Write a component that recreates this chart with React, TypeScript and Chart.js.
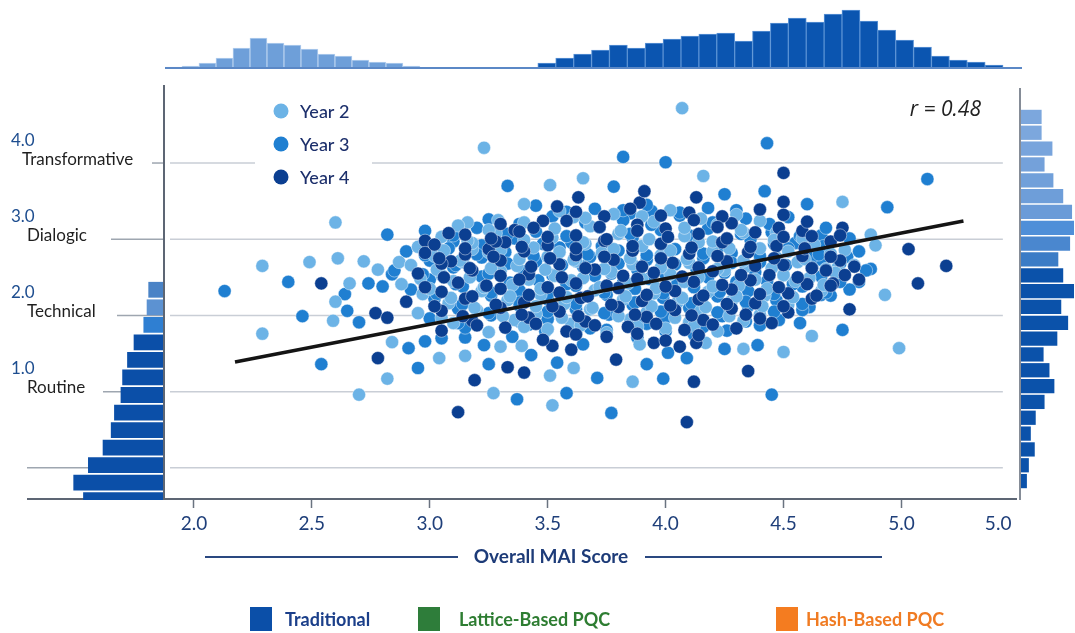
import React, { useEffect, useRef } from "react";
import { Chart, registerables } from "chart.js";
Chart.register(...registerables);

// ---------- Data ----------
const xTickValues = [2.0, 2.5, 3.0, 3.5, 4.0, 4.5, 5.0, 5.41];
const xTickLabels = ["2.0", "2.5", "3.0", "3.5", "4.0", "4.5", "5.0", "5.0"];

const yLevels = [4, 3, 2, 1, 0];
const yLevelNumbers = ["4.0", "3.0", "2.0", "1.0"];
const yLevelNames = ["Transformative", "Dialogic", "Technical", "Routine"];

const seriesNames = ["Year 2", "Year 3", "Year 4"];
const correlationText = "r = 0.48";
const xAxisTitle = "Overall MAI Score";
const methodNames = ["Traditional", "Lattice-Based PQC", "Hash-Based PQC"];

const fitLine: [number, number][] = [[2.174, 1.388], [5.263, 3.239]];

const year2Points: [number, number][] = [
  [4.07,4.72],[3.23,4.20],[4.16,3.83],[3.51,3.71],[3.65,3.80],[3.40,3.46],[3.61,3.29],[3.29,3.25],[3.16,3.22],[2.60,3.22],
  [2.29,2.65],[2.49,2.70],[2.61,2.75],[2.66,2.42],[2.72,2.71],[2.78,2.60],[2.87,2.70],[3.18,2.87],[3.27,2.98],[4.75,3.49],
  [4.47,3.09],[4.87,3.06],[4.89,2.92],[4.73,2.63],[4.93,2.27],[4.62,1.73],[4.99,1.57],[4.50,1.52],[4.33,1.56],[4.17,1.64],
  [3.86,1.13],[3.89,1.62],[2.29,1.76],[2.70,0.96],[2.82,1.17],[3.04,1.44],[3.15,1.47],[3.27,0.98],[3.52,0.82],[3.51,1.21],
  [3.61,1.31],[2.84,1.65],[3.30,1.59],[3.39,1.60],[2.59,1.93],[2.60,2.18],
  [3.55,3.37],[3.78,3.33],[4.02,3.38],[4.30,3.32],
  [3.12,3.18],[3.40,3.22],[3.68,3.17],[3.95,3.23],[4.22,3.19],[4.40,3.24],
  [3.05,3.03],[3.28,3.08],[3.52,3.02],[3.80,3.07],[4.08,3.04],[4.33,3.09],[4.58,3.01],
  [2.95,2.90],[3.18,2.95],[3.44,2.89],[3.66,2.94],[3.90,2.91],[4.14,2.96],[4.40,2.88],[4.63,2.93],
  [3.02,2.78],[3.25,2.83],[3.50,2.77],[3.73,2.82],[3.98,2.79],[4.20,2.84],[4.47,2.76],[4.70,2.81],
  [2.92,2.66],[3.14,2.70],[3.37,2.65],[3.62,2.71],[3.86,2.67],[4.10,2.69],[4.34,2.64],[4.56,2.70],[4.80,2.66],
  [3.05,2.53],[3.30,2.58],[3.53,2.52],[3.77,2.57],[4.02,2.54],[4.25,2.59],[4.50,2.53],[4.72,2.56],
  [2.88,2.41],[3.10,2.45],[3.35,2.40],[3.60,2.46],[3.84,2.42],[4.08,2.44],[4.31,2.39],[4.55,2.45],
  [2.97,2.28],[3.22,2.32],[3.47,2.27],[3.70,2.33],[3.95,2.29],[4.18,2.31],[4.42,2.26],[4.66,2.32],
  [3.08,2.16],[3.33,2.20],[3.57,2.15],[3.82,2.21],[4.05,2.17],[4.28,2.19],[4.52,2.14],
  [2.95,2.03],[3.20,2.07],[3.45,2.02],[3.68,2.08],[3.92,2.04],[4.15,2.06],[4.40,2.01],
  [3.10,1.90],[3.36,1.94],[3.60,1.89],[3.85,1.95],[4.10,1.91],[4.33,1.93],
  [3.25,1.78],[3.50,1.82],[3.75,1.77],[4.00,1.83],[4.22,1.79],
  [3.66,3.28],[3.90,3.30],[4.15,3.27],
  [3.25,3.12],[3.53,3.14],[3.81,3.11],[4.08,3.15],[4.32,3.12],
  [3.16,2.98],[3.40,2.99],[3.65,2.96],[3.93,3.00],[4.20,2.97],[4.46,2.99],
  [3.06,2.85],[3.30,2.86],[3.55,2.83],[3.78,2.87],[4.02,2.85],[4.27,2.88],[4.52,2.84],[4.76,2.86],
  [3.13,2.72],[3.38,2.74],[3.61,2.73],[3.85,2.75],[4.09,2.74],[4.33,2.72],[4.59,2.74],
  [3.03,2.60],[3.26,2.62],[3.49,2.60],[3.74,2.61],[3.98,2.63],[4.22,2.61],[4.45,2.62],[4.68,2.61],
  [2.96,2.48],[3.17,2.50],[3.42,2.47],[3.65,2.49],[3.90,2.48],[4.14,2.50],[4.38,2.47],[4.61,2.49],
  [3.00,2.35],[3.23,2.37],[3.47,2.35],[3.72,2.37],[3.96,2.36],[4.20,2.38],[4.43,2.35],[4.67,2.40],
  [3.09,2.23],[3.34,2.25],[3.58,2.24],[3.83,2.25],[4.07,2.23],[4.30,2.25],[4.54,2.24],
  [3.19,2.10],[3.45,2.12],[3.69,2.10],[3.94,2.12],[4.17,2.11],[4.41,2.12],
  [3.05,1.97],[3.31,1.99],[3.56,1.97],[3.80,1.99],[4.04,1.97],[4.27,1.99],
  [3.40,1.85],[3.64,1.87],[3.88,1.85],[4.12,1.86],
];

const year3Points: [number, number][] = [
  [3.82,4.08],[4.00,4.01],[4.43,4.26],[5.11,3.79],[3.78,3.69],[3.94,3.37],[3.85,3.34],[4.25,3.59],[4.42,3.63],[4.60,3.46],
  [4.94,3.42],[4.66,3.05],[4.77,2.77],[4.87,2.61],[4.82,2.44],[4.66,2.73],[4.75,1.81],[4.57,1.90],[4.39,1.61],[4.25,1.56],
  [4.45,0.96],[4.09,1.44],[4.01,1.51],[3.99,1.17],[3.92,1.36],[3.71,1.18],[3.77,0.72],[4.61,2.11],[4.66,2.27],[3.33,3.70],
  [2.82,3.06],[2.13,2.32],[2.40,2.44],[2.74,2.42],[2.80,2.38],[2.84,2.54],[3.04,2.87],[2.46,1.99],[2.54,1.36],[2.95,1.31],
  [3.25,1.36],[3.37,0.90],[3.58,0.98],[3.54,1.38],[2.91,1.57],[2.98,1.66],[3.05,1.70],[3.15,1.71],[3.23,1.61],[3.43,1.48],
  [3.65,1.62],[2.70,1.91],[2.65,2.06],[2.64,2.28],
  [3.45,3.44],[3.70,3.40],[3.92,3.45],[4.18,3.41],
  [3.25,3.26],[3.52,3.30],[3.82,3.25],[4.06,3.31],[4.34,3.27],[4.52,3.29],
  [2.98,3.11],[3.20,3.15],[3.45,3.10],[3.72,3.16],[3.98,3.12],[4.18,3.14],[4.45,3.09],[4.68,3.15],
  [3.10,2.97],[3.36,3.01],[3.60,2.96],[3.86,3.02],[4.12,2.98],[4.36,3.00],[4.55,2.95],[4.78,3.01],
  [2.90,2.84],[3.08,2.88],[3.32,2.83],[3.55,2.89],[3.80,2.85],[4.04,2.87],[4.28,2.82],[4.52,2.88],[4.82,2.84],
  [3.00,2.72],[3.22,2.76],[3.45,2.71],[3.68,2.77],[3.92,2.73],[4.16,2.75],[4.40,2.70],[4.62,2.76],
  [2.85,2.59],[3.10,2.63],[3.40,2.58],[3.65,2.64],[3.88,2.60],[4.13,2.62],[4.38,2.57],[4.62,2.63],[4.85,2.59],
  [3.00,2.47],[3.22,2.51],[3.46,2.46],[3.70,2.52],[3.93,2.48],[4.18,2.50],[4.43,2.45],[4.66,2.51],
  [2.92,2.34],[3.14,2.38],[3.38,2.33],[3.62,2.39],[3.87,2.35],[4.12,2.37],[4.35,2.32],[4.58,2.38],[4.78,2.34],
  [3.02,2.22],[3.26,2.26],[3.50,2.21],[3.75,2.27],[3.99,2.23],[4.22,2.25],[4.47,2.20],[4.70,2.26],
  [3.12,2.09],[3.38,2.13],[3.62,2.08],[3.86,2.14],[4.10,2.10],[4.35,2.12],[4.58,2.07],
  [3.00,1.96],[3.26,2.00],[3.50,1.95],[3.76,2.01],[4.00,1.97],[4.24,1.99],[4.48,1.94],
  [3.15,1.84],[3.42,1.88],[3.68,1.83],[3.92,1.89],[4.16,1.85],[4.40,1.87],
  [3.35,1.72],[3.62,1.76],[3.88,1.71],[4.12,1.75],
  [3.58,3.36],[3.82,3.38],[4.06,3.35],[4.30,3.38],
  [3.38,3.20],[3.66,3.22],[3.94,3.19],[4.20,3.22],[4.44,3.20],
  [3.10,3.05],[3.33,3.07],[3.58,3.04],[3.85,3.07],[4.10,3.05],[4.32,3.07],[4.57,3.04],
  [3.22,2.92],[3.48,2.94],[3.73,2.91],[3.98,2.94],[4.24,2.92],[4.46,2.94],[4.67,2.91],
  [2.98,2.79],[3.20,2.80],[3.44,2.78],[3.67,2.80],[3.92,2.79],[4.16,2.81],[4.40,2.78],[4.65,2.80],
  [3.11,2.66],[3.33,2.68],[3.56,2.66],[3.80,2.68],[4.04,2.67],[4.28,2.69],[4.51,2.66],[4.74,2.68],
  [2.97,2.54],[3.25,2.55],[3.52,2.53],[3.77,2.55],[4.00,2.54],[4.25,2.56],[4.50,2.53],[4.74,2.55],
  [3.11,2.41],[3.34,2.43],[3.58,2.41],[3.82,2.43],[4.05,2.42],[4.30,2.44],[4.54,2.41],[4.74,2.44],
  [3.03,2.28],[3.26,2.30],[3.50,2.28],[3.74,2.30],[3.99,2.29],[4.23,2.31],[4.46,2.28],[4.68,2.30],
  [3.14,2.15],[3.38,2.17],[3.62,2.15],[3.87,2.17],[4.11,2.16],[4.34,2.18],[4.58,2.15],
  [3.25,2.03],[3.50,2.05],[3.74,2.03],[3.98,2.05],[4.22,2.04],[4.46,2.05],
  [3.12,1.90],[3.38,1.92],[3.63,1.90],[3.88,1.92],[4.12,1.91],[4.34,1.92],
  [3.49,1.79],[3.75,1.81],[4.00,1.79],[4.26,1.80],
];

const year4Points: [number, number][] = [
  [4.50,3.87],[3.89,3.48],[3.91,3.63],[4.13,3.55],[4.50,3.49],[4.75,3.15],[4.58,3.11],[5.03,2.87],[5.19,2.65],[5.07,2.42],
  [4.71,2.42],[4.78,2.08],[4.45,1.90],[4.35,1.27],[4.12,1.13],[3.79,1.42],[4.09,0.60],[3.95,1.64],[4.06,1.59],[4.13,1.64],
  [3.63,3.55],[3.54,3.43],[3.48,3.24],[3.36,3.12],[3.08,3.08],[2.54,2.42],[2.98,2.98],[3.25,2.87],[3.09,2.71],[2.98,2.82],
  [3.32,2.96],[2.78,1.44],[3.19,1.15],[3.33,1.32],[3.40,1.25],[3.12,0.73],[3.52,1.60],[3.60,1.55],[2.77,2.03],[2.82,1.97],
  [3.62,3.36],[3.85,3.40],[4.10,3.35],[4.40,3.39],
  [3.30,3.20],[3.58,3.24],[3.88,3.19],[4.12,3.25],[4.28,3.21],[4.60,3.23],
  [3.15,3.06],[3.38,3.10],[3.62,3.05],[3.88,3.11],[4.14,3.07],[4.38,3.09],[4.62,3.04],
  [3.02,2.93],[3.28,2.97],[3.50,2.92],[3.74,2.98],[3.98,2.94],[4.24,2.96],[4.47,2.91],[4.70,2.97],
  [3.15,2.80],[3.40,2.84],[3.62,2.79],[3.86,2.85],[4.10,2.81],[4.35,2.83],[4.58,2.78],
  [3.05,2.68],[3.30,2.72],[3.55,2.67],[3.78,2.73],[4.03,2.69],[4.26,2.71],[4.50,2.66],[4.74,2.72],
  [2.95,2.55],[3.18,2.59],[3.42,2.54],[3.70,2.60],[3.95,2.56],[4.20,2.58],[4.44,2.53],[4.68,2.59],
  [3.12,2.43],[3.38,2.47],[3.62,2.42],[3.88,2.48],[4.12,2.44],[4.36,2.46],[4.60,2.41],[4.82,2.47],
  [3.05,2.31],[3.30,2.35],[3.55,2.30],[3.80,2.36],[4.04,2.32],[4.28,2.34],[4.52,2.29],
  [2.90,2.18],[3.15,2.22],[3.40,2.17],[3.64,2.23],[3.90,2.19],[4.14,2.21],[4.38,2.16],[4.62,2.22],
  [3.05,2.06],[3.30,2.10],[3.55,2.05],[3.80,2.11],[4.04,2.07],[4.28,2.09],[4.52,2.04],
  [3.18,1.93],[3.42,1.97],[3.66,1.92],[3.92,1.98],[4.16,1.94],[4.40,1.96],
  [3.05,1.80],[3.32,1.84],[3.58,1.79],[3.84,1.85],[4.08,1.81],[4.30,1.83],
  [3.48,1.68],[3.75,1.72],[4.00,1.67],
  [3.74,3.30],[3.98,3.31],[4.24,3.30],[4.50,3.32],
  [3.44,3.15],[3.72,3.16],[4.00,3.14],[4.22,3.16],[4.48,3.15],
  [3.26,3.01],[3.50,3.03],[3.75,3.00],[4.01,3.03],[4.26,3.01],[4.50,3.03],[4.74,3.05],
  [3.15,2.88],[3.39,2.90],[3.62,2.88],[3.86,2.91],[4.11,2.89],[4.36,2.90],[4.59,2.88],
  [3.04,2.75],[3.27,2.77],[3.51,2.75],[3.74,2.77],[3.98,2.75],[4.22,2.78],[4.46,2.75],[4.70,2.77],
  [3.17,2.62],[3.43,2.64],[3.66,2.62],[3.90,2.64],[4.14,2.63],[4.38,2.65],[4.62,2.62],[4.80,2.64],
  [3.06,2.50],[3.30,2.52],[3.56,2.50],[3.82,2.52],[4.07,2.51],[4.32,2.53],[4.56,2.50],[4.76,2.53],
  [2.98,2.37],[3.24,2.39],[3.50,2.37],[3.75,2.39],[4.00,2.38],[4.24,2.40],[4.48,2.37],[4.70,2.39],
  [3.18,2.25],[3.42,2.27],[3.67,2.25],[3.92,2.27],[4.16,2.26],[4.40,2.28],[4.64,2.26],
  [3.02,2.12],[3.28,2.14],[3.52,2.12],[3.77,2.14],[4.02,2.13],[4.26,2.15],[4.50,2.12],
  [3.14,1.99],[3.39,2.01],[3.63,1.99],[3.87,2.01],[4.11,2.00],[4.34,2.01],
  [3.20,1.87],[3.45,1.89],[3.70,1.87],[3.96,1.89],[4.20,1.88],
  [3.62,1.75],[3.88,1.76],[4.14,1.74],
];

// marginal histograms
const topLightStart = 1.877;
const topLightBinWidth = 0.0721;
const topLightCounts = [0.8, 2, 5, 10, 20, 30, 25, 23, 19, 14, 12, 8, 6, 5, 2];
const topDarkStart = 3.459;
const topDarkBinWidth = 0.0759;
const topDarkCounts = [5, 10, 14, 18, 23, 20, 25, 29, 32, 34, 35, 27, 37, 45, 50, 46, 54, 58, 47, 38, 28, 21, 12, 8, 6, 3];

const leftBins = ["2.34", "2.12", "1.90", "1.68", "1.46", "1.24", "1.02", "0.80", "0.58", "0.36", "0.14", "-0.08", "-0.30"];
const leftCounts = [9, 10, 12, 18, 22, 25, 26, 30, 32, 37, 46, 55, 49];

const rightBins = ["b1","b2","b3","b4","b5","b6","b7","b8","b9","b10","b11","b12","b13","b14","b15","b16","b17","b18","b19","b20","b21","b22","b23","b24"];
const rightCounts = [21, 21, 32, 24, 33, 43, 52, 54, 50, 38, 43, 54, 41, 48, 37, 23, 29, 34, 24, 15, 10, 14, 8, 6];

// ---------- Styles ----------
const C2 = "#6cb3e6";
const C3 = "#1f7fd1";
const C4 = "#0b3f91";
const FONT = "Lato, 'Open Sans', sans-serif";

const leftColors = ["#4a83c6", "#5c92d2", "#2f7fd2", "#0b4fa8", "#0b4fa8", "#0b4fa8", "#0b4fa8", "#0b4fa8", "#0b4fa8", "#0b4fa8", "#0b4fa8", "#0b4fa8", "#0b4fa8"];
const rightColors = ["#7ca7dd", "#7ca7dd", "#78a4dc", "#74a1da", "#71a0da", "#6e9ed9", "#6a9bd8", "#4f8fd8", "#4a87cf", "#3b7cc6",
  "#0b52aa", "#0b52aa", "#0b52aa", "#0b52aa", "#0b52aa", "#0b52aa", "#0b52aa", "#0b52aa", "#0b52aa", "#0b52aa", "#0b52aa", "#0b52aa", "#0b52aa", "#0b52aa"];

const toXY = (arr: [number, number][]) => arr.map(([x, y]) => ({ x, y }));

export default function App() {
  const mainRef = useRef<HTMLCanvasElement>(null);
  const topRef = useRef<HTMLCanvasElement>(null);
  const leftRef = useRef<HTMLCanvasElement>(null);
  const rightRef = useRef<HTMLCanvasElement>(null);

  useEffect(() => {
    const charts: Chart[] = [];

    const decor = {
      id: "decor",
      beforeDatasetsDraw(chart: any) {
        const { ctx, chartArea: ca, scales } = chart;
        const x = scales.x, y = scales.y;
        ctx.save();
        const ext = [152, 111, 117, 103, 27];
        yLevels.forEach((lv, i) => {
          const py = y.getPixelForValue(lv);
          ctx.strokeStyle = "#c9ced6";
          ctx.lineWidth = 1.5;
          ctx.beginPath();
          ctx.moveTo(ca.left + 6, py);
          ctx.lineTo(x.getPixelForValue(5.43), py);
          ctx.stroke();
          ctx.strokeStyle = "#9ea6b0";
          ctx.beginPath();
          ctx.moveTo(ext[i], py);
          ctx.lineTo(ca.left, py);
          ctx.stroke();
        });
        ctx.fillStyle = "#ffffff";
        ctx.fillRect(255, 95, 117, 98);
        ctx.strokeStyle = "#5d6674";
        ctx.lineWidth = 2;
        ctx.beginPath();
        ctx.moveTo(ca.left, ca.top);
        ctx.lineTo(ca.left, ca.bottom + 1);
        ctx.stroke();
        ctx.beginPath();
        ctx.moveTo(27, ca.bottom + 1);
        ctx.lineTo(ca.right, ca.bottom + 1);
        ctx.stroke();
        ctx.lineWidth = 1.5;
        ctx.beginPath();
        ctx.moveTo(1020, 88);
        ctx.lineTo(1020, 500);
        ctx.stroke();
        ctx.restore();
      },
      afterDraw(chart: any) {
        const { ctx, scales } = chart;
        const y = scales.y;
        ctx.save();
        ctx.textBaseline = "middle";
        ctx.textAlign = "left";
        const nameX = [22, 27, 27, 27];
        yLevelNames.forEach((name, i) => {
          const py = y.getPixelForValue(yLevels[i]);
          ctx.font = `17px ${FONT}`;
          ctx.fillStyle = "#1d4d8f";
          ctx.fillText(yLevelNumbers[i], 11, py - 23);
          ctx.fillStyle = "#1f1f1f";
          ctx.fillText(name, nameX[i], py - 4);
        });
        const lc = [C2, C3, C4];
        seriesNames.forEach((n, i) => {
          const cy = 111 + i * 33;
          ctx.beginPath();
          ctx.arc(281, cy, 7.5, 0, Math.PI * 2);
          ctx.fillStyle = lc[i];
          ctx.fill();
          ctx.fillStyle = "#1c2f6b";
          ctx.font = `500 18px ${FONT}`;
          ctx.fillText(n, 300, cy + 1);
        });
        ctx.font = `italic 21px 'Open Sans', ${FONT}`;
        ctx.fillStyle = "#222";
        ctx.textAlign = "right";
        ctx.fillText(correlationText, 981, 110);
        ctx.textAlign = "center";
        ctx.font = `bold 19px ${FONT}`;
        ctx.fillStyle = "#1d3b78";
        ctx.fillText(xAxisTitle, 551, 557);
        ctx.strokeStyle = "#2a4880";
        ctx.lineWidth = 2;
        ctx.beginPath();
        ctx.moveTo(205, 557); ctx.lineTo(458, 557);
        ctx.moveTo(645, 557); ctx.lineTo(882, 557);
        ctx.stroke();
        const sq = [["#0b4fa8", 250, 285, "#1b3f8a"], ["#2e7d3a", 418, 459, "#2e7d32"], ["#f47c20", 776, 806, "#f07b22"]] as const;
        ctx.textAlign = "left";
        ctx.font = `bold 18px ${FONT}`;
        methodNames.forEach((m, i) => {
          const [fill, sx, tx, tc] = sq[i];
          ctx.fillStyle = fill;
          ctx.fillRect(sx, 607, 22, 24);
          ctx.fillStyle = tc;
          ctx.fillText(m, tx, 620);
        });
        ctx.restore();
      },
    };

    const ptStyle = (c: string) => ({
      backgroundColor: c,
      borderColor: "rgba(255,255,255,0.55)",
      borderWidth: 0.8,
      pointRadius: 6.6,
    });

    charts.push(new Chart(mainRef.current!, {
      type: "scatter",
      data: {
        datasets: [
          { label: "fit", data: toXY(fitLine), showLine: true, borderColor: "#141414", borderWidth: 3.5, pointRadius: 0, order: 0 } as any,
          { label: seriesNames[0], data: toXY(year2Points), ...ptStyle(C2), order: 2 },
          { label: seriesNames[1], data: toXY(year3Points), ...ptStyle(C3), order: 3 },
          { label: seriesNames[2], data: toXY(year4Points), ...ptStyle(C4), order: 1 },
        ],
      },
      options: {
        responsive: false,
        animation: false,
        events: [],
        layout: { padding: { left: 164, top: 85, right: 58, bottom: 95 } },
        scales: {
          x: {
            type: "linear",
            min: 1.873,
            max: 5.49,
            afterBuildTicks: (axis: any) => { axis.ticks = xTickValues.map((v) => ({ value: v })); },
            afterFit: (s: any) => { s.height = 40; },
            border: { display: false },
            grid: {
              drawOnChartArea: false,
              tickLength: 10,
              tickWidth: 1.5,
              tickColor: (c: any) => (c.tick && c.tick.value > 5.2 ? "rgba(0,0,0,0)" : "#6a7380"),
            },
            ticks: {
              autoSkip: false,
              maxRotation: 0,
              padding: 4,
              color: "#1f3f7a",
              font: { family: "'Liberation Sans Narrow', Lato, sans-serif", size: 19 },
              callback: (_v: any, i: number) => xTickLabels[i],
            },
          },
          y: { type: "linear", min: -0.396, max: 5.024, display: false },
        },
        plugins: { legend: { display: false }, tooltip: { enabled: false } },
      },
      plugins: [decor],
    } as any));

    const baseline = {
      id: "baseline",
      afterDraw(chart: any) {
        const { ctx, chartArea: ca } = chart;
        ctx.save();
        ctx.strokeStyle = "#5b88c6";
        ctx.lineWidth = 2;
        ctx.beginPath();
        ctx.moveTo(ca.left, ca.bottom);
        ctx.lineTo(ca.right, ca.bottom);
        ctx.stroke();
        ctx.restore();
      },
    };

    charts.push(new Chart(topRef.current!, {
      type: "bar",
      data: {
        datasets: [
          {
            data: topLightCounts.map((c, i) => ({ x: topLightStart + topLightBinWidth * (i + 0.5), y: c })),
            backgroundColor: "#6e9fd9", borderColor: "#b5cfee", borderWidth: 1, barThickness: 17, grouped: false,
          },
          {
            data: topDarkCounts.map((c, i) => ({ x: topDarkStart + topDarkBinWidth * (i + 0.5), y: c })),
            backgroundColor: "#0b55b0", borderColor: "#5e95d6", borderWidth: 1, barThickness: 18, grouped: false,
          },
        ],
      },
      options: {
        responsive: false, animation: false, events: [],
        layout: { padding: { left: 165, right: 53, top: 8, bottom: 12 } },
        scales: {
          x: { type: "linear", min: 1.877, max: 5.513, offset: false, grid: { offset: false }, display: false },
          y: { min: 0, max: 60, display: false },
        },
        plugins: { legend: { display: false }, tooltip: { enabled: false } },
      },
      plugins: [baseline],
    } as any));

    charts.push(new Chart(leftRef.current!, {
      type: "bar",
      data: {
        labels: leftBins,
        datasets: [{ data: leftCounts, backgroundColor: leftColors, borderWidth: 0, barPercentage: 0.9, categoryPercentage: 1 }],
      },
      options: {
        indexAxis: "y",
        responsive: false, animation: false, events: [],
        layout: { padding: { left: 0, right: 7, top: 6, bottom: 6 } },
        scales: {
          x: { min: 0, max: 100, reverse: true, display: false },
          y: { display: false },
        },
        plugins: { legend: { display: false }, tooltip: { enabled: false } },
      },
    } as any));

    charts.push(new Chart(rightRef.current!, {
      type: "bar",
      data: {
        labels: rightBins,
        datasets: [{ data: rightCounts, backgroundColor: rightColors, borderWidth: 0, barPercentage: 0.9, categoryPercentage: 1 }],
      },
      options: {
        indexAxis: "y",
        responsive: false, animation: false, events: [],
        layout: { padding: { left: 6, right: 0, top: 9, bottom: 11 } },
        scales: {
          x: { min: 0, max: 55, display: false },
          y: { display: false },
        },
        plugins: { legend: { display: false }, tooltip: { enabled: false } },
      },
    } as any));

    return () => charts.forEach((c) => c.destroy());
  }, []);

  return (
    <div style={{ position: "absolute", left: 0, top: 0, width: 1075, height: 633, background: "#fff", overflow: "hidden" }}>
      <canvas ref={mainRef} width={1075} height={633} style={{ position: "absolute", left: 0, top: 0, width: 1075, height: 633 }} />
      <canvas ref={topRef} width={1075} height={80} style={{ position: "absolute", left: 0, top: 0, width: 1075, height: 80 }} />
      <div style={{ position: "absolute", left: 0, top: 275, width: 170, height: 225, overflow: "hidden" }}>
        <canvas ref={leftRef} width={170} height={240} style={{ position: "absolute", left: 0, top: 0, width: 170, height: 240 }} />
      </div>
      <canvas ref={rightRef} width={60} height={400} style={{ position: "absolute", left: 1015, top: 100, width: 60, height: 400 }} />
    </div>
  );
}
